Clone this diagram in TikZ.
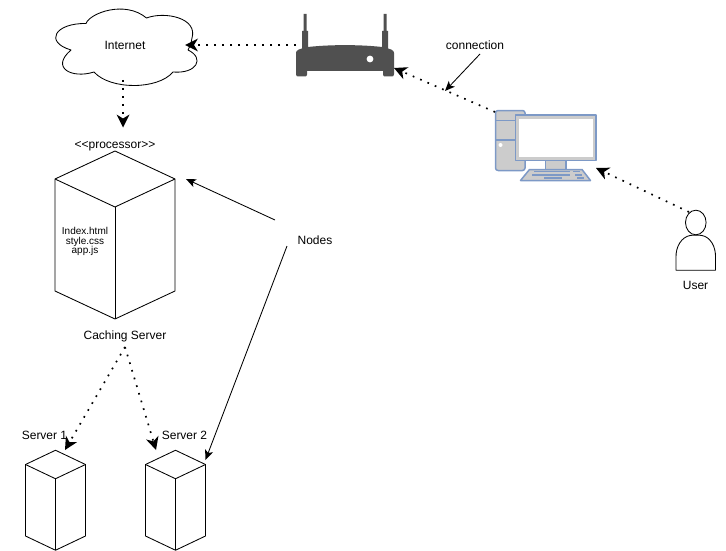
\documentclass[tikz,border=0pt]{standalone}
\usepackage{fontspec}
\setmainfont{Liberation Sans}
\usetikzlibrary{arrows.meta}
\definecolor{routergrey}{HTML}{505050}
\definecolor{pcblue}{HTML}{7D99C6}
\definecolor{pcgrey}{HTML}{CCCCCC}
\tikzset{
  x=1pt,y=-1pt,
  lab/.style={font=\fontsize{12}{14}\selectfont,inner sep=0pt,align=center},
  small/.style={font=\fontsize{10}{9.5}\selectfont,inner sep=0pt,align=center},
  shapeline/.style={draw=black,line width=0.85pt,line join=round},
  dotlink/.style={line width=1.7pt,dash pattern=on 1.7pt off 6.3pt,-{Stealth[inset=4pt,length=13pt,width=13pt,line width=0pt]}},
  solidlink/.style={line width=0.85pt,-{Stealth[inset=2.5pt,length=10pt,width=8.5pt,line width=0pt]}},
  pcshape/.style={draw=pcblue,line width=1.5pt,line join=round,fill=pcgrey},
  keyline/.style={draw=pcblue,line width=1.5pt},
  cw/.initial=60,ct/.initial=28,ch/.initial=112,
  cube/.pic={
    \draw[shapeline,fill=white] (0,0) -- (\pgfkeysvalueof{/tikz/cw}/2,-\pgfkeysvalueof{/tikz/ct}/2) -- (\pgfkeysvalueof{/tikz/cw},0) -- (\pgfkeysvalueof{/tikz/cw},\pgfkeysvalueof{/tikz/ch}) -- (\pgfkeysvalueof{/tikz/cw}/2,\pgfkeysvalueof{/tikz/ch}+\pgfkeysvalueof{/tikz/ct}/2) -- (0,\pgfkeysvalueof{/tikz/ch}) -- cycle;
    \draw[shapeline] (0,0) -- (\pgfkeysvalueof{/tikz/cw}/2,\pgfkeysvalueof{/tikz/ct}/2) -- (\pgfkeysvalueof{/tikz/cw},0);
    \draw[shapeline] (\pgfkeysvalueof{/tikz/cw}/2,\pgfkeysvalueof{/tikz/ct}/2) -- (\pgfkeysvalueof{/tikz/cw}/2,\pgfkeysvalueof{/tikz/ch}+\pgfkeysvalueof{/tikz/ct}/2);
  },
}
\begin{document}
\begin{tikzpicture}
\useasboundingbox (0,0) rectangle (726,551);
% cloud
\draw[shapeline,fill=white] (86,23.5)
  .. controls (90,13) and (125,0) .. (146.5,18)
  .. controls (165,11) and (198,18) .. (192,38)
  .. controls (191,44) and (190,47) .. (188,50)
  .. controls (205,58) and (197,74) .. (173,72)
  .. controls (158,90) and (110,90) .. (94,72)
  .. controls (72,79) and (50,68) .. (71,50)
  .. controls (44,42) and (55,23) .. (86,23.5) -- cycle;
% router
\fill[routergrey] (303.5,14) rectangle (306.5,32) (302,31) rectangle (308,50)
  (383.5,14) rectangle (386.5,32) (382,31) rectangle (388,50);
\fill[routergrey] (296,53) .. controls (296,50) and (299,49) .. (308,47)
  .. controls (330,44.5) and (360,44.5) .. (382,47)
  .. controls (391,49) and (394,50) .. (394,53)
  -- (394,74) .. controls (394,76) and (393,76.5) .. (392,76.5) -- (385,76.5)
  .. controls (384,76.5) and (383,76) .. (383,74.5) -- (383,71) -- (307,71) -- (307,74.5)
  .. controls (307,76) and (306,76.5) .. (305,76.5) -- (298,76.5)
  .. controls (297,76.5) and (296,76) .. (296,74) -- cycle;
\fill[white] (370,59) circle (3.4);
% pc
\draw[pcshape,rounded corners=2.5pt] (495.5,110.5) rectangle (525,170.5);
\draw[keyline] (495.5,120.5) -- (516,120.5) (495.5,140) -- (516,140);
\fill[white] (500.5,145) circle (2);
\draw[pcshape] (545.5,160) rectangle (566,169.5);
\draw[pcshape] (515.5,115) rectangle (596,160.5);
\fill[white] (519,118.5) rectangle (592.5,157);
\draw[pcshape] (529.5,169.5) -- (582,169.5) -- (590.5,180.5) -- (520.5,180.5) -- cycle;
\draw[keyline] (534,171.5) -- (570,171.5) (573,171.5) -- (580,171.5)
  (532,175) -- (570,175) (575,175) -- (582,175)
  (544,178) -- (562,178) (577,178) -- (584,178);
% user
\draw[shapeline,fill=white] (676,270.3) -- (676,258) .. controls (675.5,246) and (682,237) .. (690,235.5)
  .. controls (693,235) and (699,235) .. (702,235.5)
  .. controls (710,237) and (716,246) .. (715.5,258) -- (715.5,270.3) -- cycle;
\draw[shapeline,fill=white] (695.8,222.5) ellipse (10.3 and 12.3);
% cubes
\pic[cw=120,ct=56,ch=112] at (55,179) {cube};
\pic[cw=60,ct=28.5,ch=71.5] at (25.5,464.5) {cube};
\pic[cw=60,ct=28.5,ch=71.5] at (145.5,464.5) {cube};
% labels
\node[lab] (internet) at (125,45) {Internet};
\node[lab] (processor) at (115,146) {<{}<processor>{}>};
\node[small] (files) at (85,241.5) {Index.html\\style.css\\app.js};
\node[lab] (caching) at (125,336) {Caching Server};
\node[lab] (s1label) at (44.5,435) {Server 1};
\node[lab] (s2label) at (184.5,435) {Server 2};
\node[lab] (nodes) at (315,240) {Nodes};
\node[lab] (connection) at (475,45) {connection};
\node[lab] (userlabel) at (695.5,285) {User};
% connector ends
\coordinate (routerL) at (296,45);
\coordinate (cloudR) at (185,45);
\coordinate (cloudB) at (123,80);
\coordinate (procT) at (123,127.5);
\coordinate (pcTL) at (495,112);
\coordinate (routerBR) at (394,68);
\coordinate (userT) at (689,212);
\coordinate (pcBR) at (596,168);
\coordinate (cacheB) at (125,347);
\coordinate (s1T) at (65,450);
\coordinate (s2T) at (156,450);
\coordinate (cubeR) at (186,179);
\coordinate (s2R) at (205.5,460);
\coordinate (nodesA) at (275,220);
\coordinate (nodesB) at (287,246);
\coordinate (connA) at (480,54);
\coordinate (connB) at (445,91);
% connectors
\draw[dotlink] (routerL) -- (cloudR);
\draw[dotlink] (cloudB) -- (procT);
\draw[dotlink] (pcTL) -- (routerBR);
\draw[dotlink] (userT) -- (pcBR);
\draw[dotlink] (cacheB) -- (s1T);
\draw[dotlink] (cacheB) -- (s2T);
\draw[solidlink] (nodesA) -- (cubeR);
\draw[solidlink] (nodesB) -- (s2R);
\draw[solidlink] (connA) -- (connB);
\end{tikzpicture}
\end{document}
